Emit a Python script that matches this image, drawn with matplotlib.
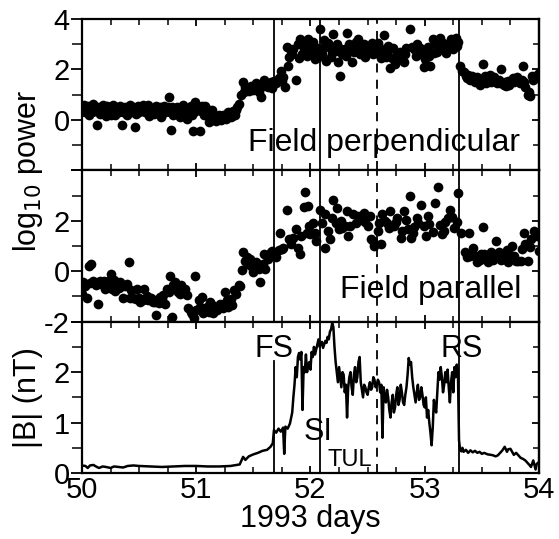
import numpy as np
import matplotlib
matplotlib.use("Agg")
import matplotlib.pyplot as plt
from matplotlib.ticker import MultipleLocator

plt.rcParams['font.family'] = ['Liberation Sans', 'DejaVu Sans']

# shock / boundary times (1993 days)
fs_day = 51.68
si_day = 52.08
tul_day = 52.58
rs_day = 53.30

# log10 power, field perpendicular
perp_day = [50.00, 50.02, 50.03, 50.05, 50.06, 50.08, 50.10, 50.11, 50.13, 50.14, 50.16, 50.18,
            50.19, 50.21, 50.22, 50.24, 50.26, 50.27, 50.29, 50.31, 50.33, 50.35, 50.36, 50.38,
            50.40, 50.42, 50.44, 50.46, 50.47, 50.49, 50.51, 50.53, 50.55, 50.57, 50.59, 50.61,
            50.63, 50.65, 50.67, 50.69, 50.71, 50.73, 50.75, 50.76, 50.78, 50.80, 50.82, 50.84,
            50.86, 50.88, 50.90, 50.92, 50.94, 50.96, 50.97, 50.99, 51.01, 51.03, 51.05, 51.07,
            51.09, 51.11, 51.13, 51.15, 51.17, 51.19, 51.21, 51.23, 51.25, 51.27, 51.29, 51.31,
            51.33, 51.35, 51.37, 51.39, 51.41, 51.42, 51.44, 51.46, 51.48, 51.50, 51.53, 51.55,
            51.57, 51.59, 51.61, 51.63, 51.65, 51.66, 51.68, 51.70, 51.72, 51.74, 51.76, 51.78,
            51.80, 51.79, 51.83, 51.85, 51.87, 51.89, 51.91, 51.93, 51.95, 51.97, 51.98, 52.00,
            52.02, 52.04, 52.06, 52.08, 52.10, 52.12, 52.14, 52.16, 52.18, 52.20, 52.22, 52.24,
            52.26, 52.28, 52.30, 52.32, 52.34, 52.36, 52.38, 52.40, 52.42, 52.44, 52.46, 52.48,
            52.50, 52.52, 52.54, 52.56, 52.58, 52.60, 52.62, 52.64, 52.66, 52.68, 52.70, 52.72,
            52.74, 52.76, 52.78, 52.80, 52.82, 52.84, 52.87, 52.89, 52.91, 52.93, 52.95, 52.97,
            52.99, 53.01, 53.03, 53.05, 53.07, 53.09, 53.11, 53.13, 53.15, 53.17, 53.19, 53.21,
            53.23, 53.25, 53.27, 53.29, 53.31, 53.34, 53.36, 53.38, 53.40, 53.42, 53.44, 53.46,
            53.48, 53.51, 53.53, 53.55, 53.57, 53.59, 53.61, 53.63, 53.65, 53.67, 53.69, 53.71,
            53.73, 53.75, 53.77, 53.79, 53.81, 53.83, 53.86, 53.88, 53.90, 53.92, 53.94, 53.96,
            53.98, 54.00,
            50.01, 50.04, 50.07, 50.09, 50.12, 50.15, 50.17, 50.20, 50.23, 50.25, 50.28, 50.30,
            50.32, 50.34, 50.37, 50.39, 50.41, 50.43, 50.45, 50.48, 50.50, 50.52, 50.54, 50.56,
            50.58, 50.60, 50.62, 50.64, 50.66, 50.68, 50.70, 50.72, 50.74, 50.77, 50.79, 50.81,
            50.83, 50.85, 50.87, 50.89, 50.91, 50.93, 50.95, 50.98, 51.00, 51.02, 51.04, 51.06,
            51.08, 51.10, 51.12, 51.14, 51.16, 51.18, 51.20, 51.22, 51.24, 51.26, 51.28, 51.30,
            51.32, 51.34, 51.36, 51.43, 51.47, 51.52, 51.58, 51.64, 51.71, 51.75, 51.81, 51.84,
            51.90, 51.94, 51.99, 52.03, 52.07, 52.11, 52.15, 52.19, 52.23, 52.27, 52.31, 52.35,
            52.39, 52.43, 52.47, 52.51, 52.55, 52.59, 52.63, 52.67, 52.71, 52.75, 52.79, 52.83,
            52.92, 52.96, 53.00, 53.04, 53.08, 53.12, 53.16, 53.20, 53.24, 53.28, 53.33, 53.37,
            53.41, 53.45, 53.50, 53.54, 53.58, 53.62, 53.66, 53.70, 53.74, 53.78, 53.82, 53.85,
            53.87, 53.91, 53.95, 53.99]
perp_pow = [0.45, 0.60, 0.30, 0.55, 0.20, 0.40, 0.65, 0.35, -0.20, 0.50, 0.25, 0.60,
            0.40, 0.15, 0.55, 0.30, 0.45, 0.60, 0.20, 0.40, 0.55, -0.20, 0.30, 0.50,
            0.35, 0.60, 0.45, -0.30, 0.25, 0.55, 0.40, 0.60, 0.30, 0.50, 0.15, 0.45,
            0.25, 0.55, 0.35, 0.10, 0.45, 0.30, 0.50, 0.92, -0.40, 0.20, 0.45, 0.35,
            0.10, 0.60, 0.30, 0.05, 0.45, 0.20, -0.45, 0.70, 0.40, -0.45, 0.55, 0.20,
            0.45, -0.10, 0.30, 0.00, -0.05, 0.15, 0.05, 0.20, 0.10, 0.20, 0.25, 0.15,
            0.30, 0.40, 0.65, 1.00, 1.50, 1.10, 1.25, 1.15, 1.35, 1.20, 1.30, 1.10,
            0.92, 1.60, 1.40, 1.30, 1.50, 1.25, 1.55, 1.45, 1.65, 1.95, 1.70, 1.30,
            2.15, 2.88, 2.75, 2.80, 1.60, 3.00, 3.20, 2.60, 3.10, 2.55, 3.20, 2.70,
            3.10, 2.40, 2.85, 3.60, 2.60, 3.15, 2.35, 2.90, 2.50, 3.40, 2.75, 2.30,
            1.75, 2.60, 2.80, 3.45, 3.00, 2.30, 2.70, 3.10, 3.20, 2.90, 2.80, 2.50,
            2.95, 2.70, 3.05, 2.80, 2.65, 2.90, 2.45, 3.35, 2.50, 2.95, 2.05, 2.85,
            2.20, 2.40, 2.70, 2.55, 2.30, 2.85, 3.60, 2.90, 2.80, 3.00, 2.65, 2.60,
            2.10, 2.75, 2.90, 2.15, 3.20, 3.00, 2.70, 3.25, 2.80, 2.95, 2.65, 3.00,
            3.20, 2.80, 3.25, 3.10, 2.15, 1.90, 1.75, 1.80, 1.60, 1.65, 1.50, 1.70,
            1.40, 2.20, 1.75, 1.65, 1.80, 1.60, 1.70, 1.45, 1.60, 2.00, 1.40, 1.35,
            1.55, 1.50, 1.65, 1.60, 1.70, 1.45, 2.15, 1.30, 1.00, 0.95, 1.75, 1.70,
            1.80, 1.85,
            0.35, 0.45, 0.50, 0.30, 0.45, 0.40, 0.30, 0.45, 0.40, 0.20, 0.35, 0.50,
            0.30, 0.40, 0.45, 0.20, 0.45, 0.30, 0.50, 0.40, 0.30, 0.50, 0.45, 0.35,
            0.60, 0.30, 0.40, 0.30, 0.45, 0.50, 0.25, 0.55, 0.40, 0.30, 0.50, 0.35,
            0.50, 0.25, 0.40, 0.45, 0.20, 0.35, 0.55, 0.30, 0.60, 0.50, 0.35, 0.45,
            0.55, 0.30, 0.10, 0.40, 0.05, 0.10, 0.20, 0.00, 0.15, 0.05, 0.30, 0.10,
            0.35, 0.20, 0.50, 1.30, 1.25, 1.45, 1.35, 1.40, 1.50, 1.55, 2.50, 2.60,
            2.45, 2.85, 2.95, 2.75, 2.50, 2.85, 3.05, 2.70, 3.00, 2.80, 2.55, 2.75,
            2.95, 2.60, 3.00, 2.75, 2.60, 3.05, 2.75, 2.65, 2.45, 2.55, 2.40, 2.60,
            2.55, 2.85, 2.40, 2.55, 2.65, 2.90, 3.05, 2.85, 3.05, 2.95, 1.95, 1.65,
            1.75, 1.55, 1.55, 1.45, 1.50, 1.55, 1.45, 1.50, 1.40, 1.50, 1.55, 1.60,
            1.50, 1.10, 1.60, 1.65]

# log10 power, field parallel
par_day = [50.00, 50.01, 50.04, 50.06, 50.08, 50.10, 50.11, 50.14, 50.16, 50.19, 50.22, 50.25,
           50.26, 50.28, 50.30, 50.33, 50.35, 50.36, 50.39, 50.41, 50.43, 50.45, 50.48, 50.51,
           50.54, 50.56, 50.58, 50.60, 50.62, 50.65, 50.68, 50.70, 50.73, 50.76, 50.77, 50.79,
           50.81, 50.84, 50.87, 50.90, 50.92, 50.95, 50.98, 50.99, 51.02, 51.05, 51.06, 51.09,
           51.12, 51.15, 51.18, 51.21, 51.23, 51.25, 51.28, 51.31, 51.35, 51.37, 51.40, 51.41,
           51.43, 51.45, 51.47, 51.50, 51.53, 51.56, 51.59, 51.60, 51.63, 51.66, 51.70, 51.73,
           51.76, 51.79, 51.81, 51.85, 51.87, 51.89, 51.91, 51.94, 51.95, 51.97, 51.98, 52.00,
           52.02, 52.05, 52.08, 52.13, 52.13, 52.17, 52.20, 52.23, 52.25, 52.27, 52.30, 52.32,
           52.33, 52.37, 52.40, 52.45, 52.47, 52.50, 52.53, 52.56, 52.59, 52.62, 52.63, 52.67,
           52.70, 52.73, 52.76, 52.79, 52.82, 52.85, 52.87, 52.88, 52.91, 52.94, 52.97, 53.01,
           53.04, 53.09, 53.12, 53.15, 53.18, 53.20, 53.22, 53.26, 53.29, 53.32, 53.35, 53.37,
           53.39, 53.42, 53.44, 53.46, 53.49, 53.51, 53.52, 53.55, 53.58, 53.60, 53.62, 53.65,
           53.68, 53.70, 53.73, 53.76, 53.78, 53.80, 53.82, 53.85, 53.87, 53.90, 53.93, 53.96,
           54.00,
           50.03, 50.07, 50.12, 50.17, 50.20, 50.23, 50.29, 50.32, 50.38, 50.42, 50.47, 50.50,
           50.53, 50.57, 50.61, 50.64, 50.67, 50.71, 50.74, 50.80, 50.83, 50.86, 50.89, 50.93,
           50.96, 51.00, 51.03, 51.08, 51.11, 51.14, 51.17, 51.20, 51.24, 51.27, 51.30, 51.33,
           51.38, 51.44, 51.48, 51.52, 51.55, 51.58, 51.62, 51.65, 51.68, 51.72, 51.75, 51.83,
           51.92, 51.99, 52.04, 52.10, 52.15, 52.19, 52.22, 52.28, 52.35, 52.42, 52.48, 52.52,
           52.55, 52.60, 52.65, 52.69, 52.75, 52.80, 52.84, 52.90, 52.93, 52.99, 53.03, 53.07,
           53.13, 53.17, 53.24, 53.28, 53.40, 53.48, 53.57, 53.63, 53.67, 53.72, 53.75, 53.84,
           53.88, 53.92, 53.98]
par_pow = [-0.90, -0.43, -1.08, 0.22, 0.29, -0.37, -0.45, -1.28, -0.40, -0.37, -0.45, -0.10,
           -0.69, -0.35, -0.56, -0.43, -0.60, -1.08, -0.50, 0.35, -0.75, -1.08, -0.69, -1.22,
           -0.69, -1.10, -1.15, -1.05, -1.22, -1.74, -1.02, -1.10, -1.28, -0.82, -0.17, -1.80,
           -0.43, -0.82, -0.56, -0.70, -0.95, -1.61, -1.87, -0.17, -1.15, -1.02, -1.67, -1.41,
           -1.22, -1.67, -1.54, -1.28, -1.45, -0.82, -1.41, -1.35, -0.89, -0.56, 0.03, 0.75,
           0.40, 0.29, 0.48, -0.04, 0.16, -0.43, 0.68, 0.09, 0.48, 0.81, 0.55, 1.53,
           0.94, 2.41, 1.27, 1.33, 1.66, 0.94, 0.68, 2.54, 3.14, 1.53, 2.58, 1.46,
           1.92, 1.20, 2.44, 2.25, 0.94, 1.27, 2.84, 2.51, 1.66, 1.99, 1.80, 2.38,
           1.40, 2.25, 1.92, 2.05, 2.31, 1.79, 1.27, 1.01, 1.59, 1.07, 2.25, 1.92,
           2.38, 1.79, 2.10, 1.33, 2.38, 1.66, 2.97, 1.33, 1.75, 1.92, 2.64, 1.40,
           1.86, 2.71, 3.36, 1.46, 1.95, 2.12, 2.44, 1.73, 3.10, 1.53, 0.75, 0.55,
           1.53, 0.94, 0.60, 0.35, 0.70, 1.75, 0.68, 0.35, 0.75, 0.45, 1.20, 0.75,
           0.50, 0.55, 0.35, 1.01, 0.60, 0.42, 0.42, 0.90, 1.53, 0.42, 1.27, 1.59,
           0.81,
           -0.60, -0.45, -0.55, -0.50, -0.70, -0.40, -0.80, -0.65, -0.60, -1.05, -1.10, -1.05,
           -1.15, -1.00, -1.10, -1.20, -1.25, -0.95, -0.70, -0.55, -0.65, -0.90, -0.85, -1.45,
           -1.70, -1.55, -1.40, -1.55, -1.60, -1.35, -1.45, -1.40, -1.30, -1.15, -1.10, -0.75,
           -0.60, 0.55, 0.20, 0.35, 0.10, 0.30, 0.60, 0.75, 0.70, 0.85, 0.90, 1.10,
           1.40, 1.80, 1.50, 1.90, 1.60, 2.10, 1.90, 1.70, 1.80, 2.20, 1.95, 2.20,
           1.20, 1.90, 2.00, 1.70, 1.95, 1.60, 2.05, 1.50, 2.10, 1.80, 2.20, 1.55,
           1.85, 1.60, 2.15, 1.95, 0.60, 0.45, 0.55, 0.70, 0.45, 0.85, 0.65, 0.40,
           1.10, 0.95, 1.40]

# |B| (nT)
b_day = [50.00, 50.03, 50.05, 50.07, 50.10, 50.13, 50.15, 50.18, 50.21, 50.25, 50.28, 50.32,
         50.36, 50.40, 50.45, 50.50, 50.60, 50.70, 50.80, 50.90, 51.00, 51.10, 51.20, 51.30,
         51.38, 51.41, 51.43, 51.46, 51.50, 51.54, 51.58, 51.62, 51.65, 51.67, 51.68, 51.70,
         51.72, 51.74, 51.76, 51.77, 51.78, 51.80, 51.82, 51.84, 51.85, 51.86, 51.87, 51.88,
         51.89, 51.90, 51.91, 51.92, 51.93, 51.94, 51.95, 51.96, 51.97, 51.98, 51.99, 52.00,
         52.01, 52.02, 52.03, 52.04, 52.05, 52.06, 52.07, 52.08, 52.09, 52.10, 52.11, 52.12,
         52.13, 52.14, 52.15, 52.16, 52.17, 52.18, 52.19, 52.20, 52.21, 52.22, 52.23, 52.24,
         52.25, 52.26, 52.27, 52.28, 52.29, 52.30, 52.31, 52.32, 52.33, 52.34, 52.35, 52.36,
         52.37, 52.38, 52.39, 52.40, 52.41, 52.42, 52.43, 52.44, 52.45, 52.46, 52.47, 52.48,
         52.49, 52.50, 52.51, 52.52, 52.53, 52.54, 52.55, 52.56, 52.57, 52.58, 52.59, 52.60,
         52.61, 52.62, 52.63, 52.64, 52.65, 52.66, 52.67, 52.68, 52.69, 52.70, 52.71, 52.72,
         52.73, 52.74, 52.75, 52.76, 52.77, 52.78, 52.79, 52.80, 52.81, 52.82, 52.83, 52.84,
         52.85, 52.86, 52.87, 52.88, 52.89, 52.90, 52.91, 52.92, 52.93, 52.94, 52.95, 52.96,
         52.97, 52.98, 52.99, 53.00, 53.01, 53.02, 53.03, 53.04, 53.05, 53.06, 53.07, 53.08,
         53.09, 53.10, 53.11, 53.12, 53.13, 53.14, 53.15, 53.16, 53.17, 53.18, 53.19, 53.20,
         53.21, 53.22, 53.23, 53.24, 53.25, 53.26, 53.27, 53.28, 53.29, 53.30, 53.31, 53.32,
         53.33, 53.34, 53.36, 53.38, 53.40, 53.42, 53.44, 53.46, 53.48, 53.50, 53.52, 53.55,
         53.58, 53.60, 53.62, 53.64, 53.66, 53.68, 53.70, 53.72, 53.73, 53.75, 53.77, 53.78,
         53.80, 53.82, 53.84, 53.86, 53.88, 53.90, 53.92, 53.93, 53.95, 53.97, 53.98, 54.00]
b_mag = [0.15, 0.14, 0.10, 0.15, 0.16, 0.12, 0.10, 0.13, 0.12, 0.10, 0.13, 0.12,
         0.11, 0.14, 0.15, 0.14, 0.13, 0.12, 0.13, 0.14, 0.14, 0.13, 0.13, 0.14,
         0.17, 0.32, 0.26, 0.33, 0.37, 0.40, 0.44, 0.46, 0.52, 0.59, 0.85, 0.80,
         0.88, 0.82, 0.90, 0.38, 0.92, 0.88, 0.98, 1.20, 1.50, 1.75, 2.10, 1.90,
         2.30, 2.38, 2.25, 2.40, 1.25, 2.10, 2.00, 2.35, 2.00, 2.15, 2.20, 2.05,
         2.40, 2.30, 2.50, 2.35, 2.45, 2.55, 2.65, 2.50, 2.55, 2.60, 2.48, 2.55,
         2.62, 2.58, 2.70, 2.65, 2.80, 2.85, 2.97, 2.90, 2.50, 2.20, 2.00, 1.80,
         2.10, 1.90, 1.70, 2.00, 1.95, 1.60, 1.75, 1.10, 1.70, 1.90, 2.00, 1.70,
         1.55, 1.95, 2.10, 1.80, 1.90, 2.20, 2.30, 1.80, 1.65, 1.50, 1.75, 1.70,
         1.60, 1.55, 1.70, 1.80, 1.65, 1.70, 1.90, 1.85, 1.70, 1.75, 1.85, 1.80,
         1.60, 1.75, 0.70, 1.70, 1.50, 1.40, 1.65, 1.50, 1.25, 1.10, 1.40, 1.55,
         1.20, 1.30, 1.55, 1.70, 1.35, 1.45, 1.75, 1.60, 1.40, 1.35, 1.55, 1.70,
         1.95, 2.28, 2.15, 2.20, 1.90, 1.70, 1.55, 1.40, 1.60, 1.75, 1.45, 1.50,
         1.70, 1.55, 1.35, 1.30, 1.50, 1.10, 1.25, 1.00, 0.80, 0.55, 0.90, 1.45,
         1.30, 1.20, 1.60, 2.00, 1.85, 2.10, 1.90, 1.60, 1.75, 2.00, 1.80, 2.05,
         1.70, 1.40, 1.80, 2.00, 1.60, 2.10, 1.90, 2.15, 2.05, 0.65, 0.45, 0.43,
         0.50, 0.42, 0.46, 0.40, 0.45, 0.41, 0.44, 0.40, 0.42, 0.38, 0.40, 0.37,
         0.36, 0.35, 0.33, 0.35, 0.40, 0.45, 0.52, 0.42, 0.47, 0.48, 0.40, 0.36,
         0.40, 0.35, 0.30, 0.28, 0.25, 0.20, 0.15, 0.12, 0.25, 0.07, 0.18, 0.22]

fig = plt.figure(figsize=(5.59, 5.39), dpi=100)
gs = fig.add_gridspec(3, 1, left=0.1467, right=0.9642, top=0.9647, bottom=0.1224, hspace=0)
ax1 = fig.add_subplot(gs[0])
ax2 = fig.add_subplot(gs[1], sharex=ax1)
ax3 = fig.add_subplot(gs[2], sharex=ax1)

ax1.plot(perp_day, perp_pow, 'o', color='black', markersize=7, markeredgewidth=0)
ax2.plot(par_day, par_pow, 'o', color='black', markersize=7, markeredgewidth=0)
ax3.plot(b_day, b_mag, '-', color='black', lw=1.8)

ax1.set_ylim(-2, 4)
ax2.set_ylim(-2, 4)
ax3.set_ylim(0, 3)
ax1.set_xlim(50, 54)

for ax in (ax1, ax2):
    ax.yaxis.set_major_locator(MultipleLocator(2))
    ax.yaxis.set_minor_locator(MultipleLocator(1))
ax3.yaxis.set_major_locator(MultipleLocator(1))
ax3.yaxis.set_minor_locator(MultipleLocator(0.5))

ax1.yaxis.set_major_formatter(plt.FuncFormatter(lambda v, p: '' if v < -1 else f'{v:g}'))
ax2.yaxis.set_major_formatter(plt.FuncFormatter(lambda v, p: '' if v > 3 else f'{v:g}'))
ax3.yaxis.set_major_formatter(plt.FuncFormatter(lambda v, p: '' if v > 2.5 else f'{v:g}'))

for ax in (ax1, ax2, ax3):
    ax.xaxis.set_major_locator(MultipleLocator(1))
    ax.xaxis.set_minor_locator(MultipleLocator(0.25))
    ax.tick_params(axis='x', which='both', direction='in', top=True, bottom=True)
    ax.tick_params(axis='x', which='major', length=5, width=1.3)
    ax.tick_params(axis='x', which='minor', length=4, width=1.1)
    ax.tick_params(axis='y', which='major', direction='out', length=8, width=1.3, labelsize=21, pad=1)
    ax.tick_params(axis='y', which='minor', direction='out', length=7, width=1.1)
    for s in ax.spines.values():
        s.set_linewidth(1.6)
    sec = ax.secondary_yaxis('right')
    sec.yaxis.set_major_locator(ax.yaxis.get_major_locator())
    sec.yaxis.set_minor_locator(ax.yaxis.get_minor_locator())
    sec.tick_params(which='both', direction='in', labelright=False)
    sec.tick_params(which='major', length=5, width=1.3)
    sec.tick_params(which='minor', length=4, width=1.1)
    sec.spines['right'].set_linewidth(1.6)
    for d in (fs_day, si_day, rs_day):
        if ax is ax3 and d == fs_day:
            continue
        ax.axvline(d, color='black', lw=1.3)
    ax.axvline(tul_day, color='black', lw=1.3, ls=(0, (5, 4)))

ax3.axvline(fs_day, ymax=0.74, color='black', lw=1.3)

ax1.tick_params(axis='x', labelbottom=False)
ax2.tick_params(axis='x', labelbottom=False)
ax3.tick_params(axis='x', which='major', labelsize=21, pad=2)

ax1.text(0.958, 0.13, 'Field perpendicular', transform=ax1.transAxes, ha='right', va='baseline', fontsize=23)
ax2.text(0.962, 0.155, 'Field parallel', transform=ax2.transAxes, ha='right', va='baseline', fontsize=23)
ax3.text(fs_day, 2.3, 'FS', ha='center', va='baseline', fontsize=22)
ax3.text(53.32, 2.3, 'RS', ha='center', va='baseline', fontsize=22)
ax3.text(52.07, 0.65, 'SI', ha='center', va='baseline', fontsize=22)
ax3.text(52.34, 0.14, 'TUL', ha='center', va='baseline', fontsize=17)

ax3.set_xlabel('1993 days', fontsize=22, labelpad=0)
fig.text(0.05, 1 - 171 / 539, 'log$_{10}$ power', rotation=90, ha='center', va='center', fontsize=22)
fig.text(0.05, 1 - 398 / 539, '|B| (nT)', rotation=90, ha='center', va='center', fontsize=22)

fig.savefig('out.png', dpi=100)
